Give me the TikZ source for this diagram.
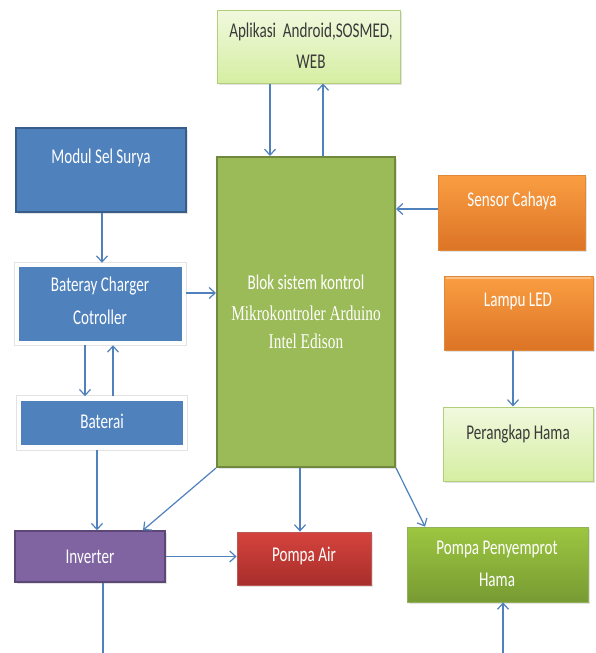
\documentclass[tikz,border=0pt]{standalone}
\usepackage{fontspec}
\setmainfont{Carlito}
\newfontfamily\boxfont[FakeStretch=0.72]{Carlito}
\newfontfamily\serfont[FakeStretch=0.73]{Liberation Serif}
\usetikzlibrary{arrows.meta,shadows}
\definecolor{arrblue}{HTML}{4F81BD}
\definecolor{blu}{HTML}{4F81BD}
\definecolor{bludark}{HTML}{385D8A}
\definecolor{grn}{HTML}{9BBB59}
\definecolor{grndark}{HTML}{71893F}
\definecolor{ltgtop}{HTML}{F1F9DE}
\definecolor{ltgbot}{HTML}{D5EEA2}
\definecolor{ltgline}{HTML}{B3CE78}
\definecolor{orgtop}{HTML}{FA9E42}
\definecolor{orgbot}{HTML}{DC7426}
\definecolor{orgline}{HTML}{E0883A}
\definecolor{redtop}{HTML}{D5433D}
\definecolor{redbot}{HTML}{A82E2B}
\definecolor{pgtop}{HTML}{9DC640}
\definecolor{pgbot}{HTML}{779B33}
\definecolor{purp}{HTML}{8064A2}
\definecolor{purpdark}{HTML}{5C4776}
\definecolor{txtdark}{HTML}{3A3A3A}
\tikzset{
  shad/.style={drop shadow={opacity=0.22,shadow xshift=1.5pt,shadow yshift=-2pt}},
  box/.style={rectangle,inner sep=0pt,shad},
  bluebox/.style={box,fill=blu,draw=bludark,line width=1.5pt},
  framebox/.style={box,fill=blu,draw=white,line width=4.5pt,
     preaction={draw=black!11,line width=6.3pt,rounded corners=1.5pt}},
  greenbig/.style={box,fill=grn,draw=grndark,line width=2pt},
  ltgbox/.style={box,top color=ltgtop,bottom color=ltgbot,draw=ltgline,line width=1pt},
  orgbox/.style={box,top color=orgtop,bottom color=orgbot,draw=orgline,line width=0.8pt},
  redbox/.style={box,top color=redtop,bottom color=redbot,draw=redbot!80,line width=0.8pt},
  pgbox/.style={box,top color=pgtop,bottom color=pgbot,draw=pgbot!80!white,line width=0.8pt},
  purpbox/.style={box,fill=purp,draw=purpdark,line width=1.5pt},
  wtxt/.style={inner sep=0pt,text=white,font=\boxfont\fontsize{21}{24}\selectfont},
  dtxt/.style={inner sep=0pt,text=txtdark,font=\boxfont\fontsize{21}{24}\selectfont},
  stxt/.style={inner sep=0pt,text=white,font=\serfont\fontsize{21}{24}\selectfont},
  arr/.style={draw=arrblue,line width=1.2pt,-{Straight Barb[length=6pt,width=11pt]}},
  ln/.style={draw=arrblue,line width=1.2pt},
}
\begin{document}
\begin{tikzpicture}[x=1pt,y=-1pt]
\useasboundingbox (0,0) rectangle (595,653);
\fill[white] (0,0) rectangle (595,653);
% boxes
\node[ltgbox,minimum width=183,minimum height=73] (apl) at (308.5,46.5) {};
\node[bluebox,minimum width=170,minimum height=84] (modul) at (101,170) {};
\node[greenbig,minimum width=178,minimum height=310] (blok) at (306,312) {};
\node[orgbox,minimum width=147,minimum height=75] (sensor) at (511.5,212.5) {};
\node[orgbox,minimum width=149,minimum height=74] (lampu) at (518.5,313) {};
\node[ltgbox,minimum width=150,minimum height=74] (perangkap) at (518,444) {};
\node[framebox,minimum width=167,minimum height=78] (bateray) at (100.5,304) {};
\node[framebox,minimum width=166,minimum height=49] (baterai) at (102,423) {};
\node[purpbox,minimum width=150,minimum height=51] (inverter) at (90,556.5) {};
\node[redbox,minimum width=134,minimum height=53] (pompaair) at (304,558.5) {};
\node[pgbox,minimum width=181,minimum height=75] (penyemprot) at (497.5,564.5) {};
% bevel highlight of Lampu LED
\draw[white,opacity=0.35,line width=2pt] ([xshift=2pt,yshift=-2pt]lampu.north west) -- ([xshift=-2pt,yshift=-2pt]lampu.north east);
% texts
\node[dtxt] (apl-t1) at (311,32) {Aplikasi\ \ Android,SOSMED,};
\node[dtxt] (apl-t2) at (311,62) {WEB};
\node[wtxt] (modul-t) at (101,158) {Modul Sel Surya};
\node[wtxt] (bateray-t1) at (100,286) {Bateray Charger};
\node[wtxt] (bateray-t2) at (100,317) {Cotroller};
\node[wtxt] (baterai-t) at (102,421) {Baterai};
\node[wtxt] (blok-t1) at (306,282) {Blok sistem kontrol};
\node[stxt] (blok-t2) at (306,313) {Mikrokontroler Arduino};
\node[stxt] (blok-t3) at (306,341) {Intel Edison};
\node[wtxt] (sensor-t) at (512,201) {Sensor Cahaya};
\node[wtxt] (lampu-t) at (518,301) {Lampu LED};
\node[dtxt] (perangkap-t) at (518,434) {Perangkap Hama};
\node[wtxt] (inverter-t) at (90,557) {Inverter};
\node[wtxt] (pompaair-t) at (304,556) {Pompa Air};
\node[wtxt] (penyemprot-t1) at (497,549) {Pompa Penyemprot};
\node[wtxt] (penyemprot-t2) at (497,580) {Hama};
% free ends
\coordinate (invout) at (103,653);
\coordinate (penyin) at (503,653);
% connectors
\draw[arr] (apl.south -| 270,0) -- (blok.north -| 270,0);
\draw[arr] (blok.north -| 323,0) -- (apl.south -| 323,0);
\draw[arr] ([yshift=3.5pt]sensor.west) -- ([yshift=3.5pt]sensor.west -| blok.east);
\draw[arr] (lampu.south -| 513,0) -- (perangkap.north -| 513,0);
\draw[arr] (modul.south -| 102,0) -- (bateray.north -| 102,0);
\draw[arr] ([yshift=11pt]bateray.east) -- ([yshift=11pt]bateray.east -| blok.west);
\draw[arr] (bateray.south -| 85,0) -- (baterai.north -| 85,0);
\draw[arr] (baterai.north -| 113,0) -- (bateray.south -| 113,0);
\draw[arr] (baterai.south -| 97,0) -- (inverter.north -| 97,0);
\draw[arr] (blok.south west) -- (inverter.north -| 143,0);
\draw[arr] (blok.south -| 300,0) -- (pompaair.north -| 300,0);
\draw[arr] (blok.south east) -- (penyemprot.north -| 425,0);
\draw[arr] (inverter.east) -- (inverter.east -| pompaair.west);
\draw[ln] (inverter.south -| invout) -- (invout);
\draw[arr] (penyin) -- (penyemprot.south -| penyin);
\end{tikzpicture}
\end{document}
